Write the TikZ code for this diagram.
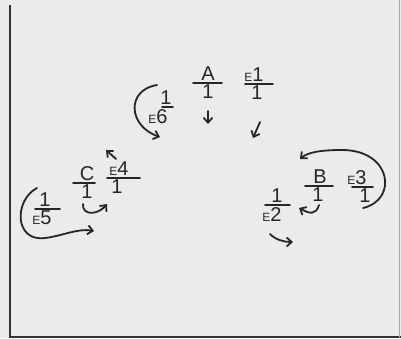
\documentclass[tikz,border=0pt]{standalone}
\usepackage{fontspec}
\setmainfont{Liberation Sans}
\usetikzlibrary{arrows.meta}
\newcommand\Esm{{\fontsize{12}{12}\selectfont E}}
% name, barx, bary, halfwidth, numx, num, denx, den
\newcommand\frc[8]{%
  \coordinate (#1l) at (#2-#4,#3);
  \coordinate (#1r) at (#2+#4,#3);
  \draw[ink] (#1l) -- (#1r);
  \node[lbl,anchor=south] (#1n) at (#5,#3-2) {#6};
  \node[lbl,anchor=north] (#1d) at (#7,#3+2) {#8};}
\begin{document}
\begin{tikzpicture}[x=1pt,y=-1pt,
  ink/.style={line width=1.8pt,draw=black!85,line cap=round,line join=round},
  harrow/.style={ink,-{Straight Barb[length=5pt,width=9pt,line width=1.8pt]}},
  lbl/.style={font=\fontsize{20}{20}\selectfont,inner sep=0pt,text=black!85}]
\fill[black!8] (0,0) rectangle (401,338);
\useasboundingbox (0,0) rectangle (401,338);
\draw[line width=2pt,black!80] (10,5) -- (10,338);
\draw[line width=2pt,black!80] (10,337) -- (401,337);
\draw[line width=1pt,black!35] (399,0) -- (399,338);
% fractions
\frc{A}{207.5}{83}{14.5}{208}{A}{208}{1}
\frc{Eo}{259}{84}{14}{254}{\Esm1}{257}{1}
\frc{Es}{167.5}{107}{5.5}{166}{1}{158}{\Esm6}
\frc{C}{84}{183}{11}{87}{C}{87}{1}
\frc{Ef}{123.5}{178}{16.5}{119}{\Esm4}{117}{1}
\frc{Ev}{47.5}{209}{12.5}{45}{1}{42}{\Esm5}
\frc{B}{319}{186}{14}{320}{B}{318}{1}
\frc{Et}{362.5}{187}{10.5}{357}{\Esm3}{365}{1}
\frc{Ew}{277.5}{205}{12.5}{277}{1}{272}{\Esm2}
% arrow coordinates
\coordinate (a1) at (208,111); \coordinate (a2) at (208,124);
\coordinate (b1) at (260,122); \coordinate (b2) at (253,138);
\coordinate (c1) at (157,85);  \coordinate (c2) at (160,137);
\coordinate (d1) at (83,204);  \coordinate (d2) at (107,204);
\coordinate (e1) at (116,159); \coordinate (e2) at (106,150);
\coordinate (f1) at (37,188);  \coordinate (f2) at (45,238); \coordinate (f3) at (94,231);
\coordinate (g1) at (319,205); \coordinate (g2) at (299,208);
\coordinate (h1) at (363,208); \coordinate (h2) at (342,150); \coordinate (h3) at (300,159);
\coordinate (k1) at (270,234); \coordinate (k2) at (293,242);
% arrows
\draw[harrow] (a1) -- (a2);
\draw[harrow] (b1) -- (b2);
\draw[harrow] (c1) .. controls (126,90) and (128,126) .. (c2);
\draw[harrow] (d1) .. controls (82,216) and (98,215) .. (d2);
\draw[harrow] (e1) -- (e2);
\draw[harrow] (f1) .. controls (14,200) and (14,242) .. (f2) .. controls (62,236) and (78,228) .. (f3);
\draw[harrow] (g1) .. controls (316,215) and (310,214) .. (g2);
\draw[harrow] (h1) .. controls (398,200) and (392,150) .. (h2) .. controls (322,150) and (308,152) .. (h3);
\draw[harrow] (k1) .. controls (276,240) and (284,242) .. (k2);
\end{tikzpicture}
\end{document}
